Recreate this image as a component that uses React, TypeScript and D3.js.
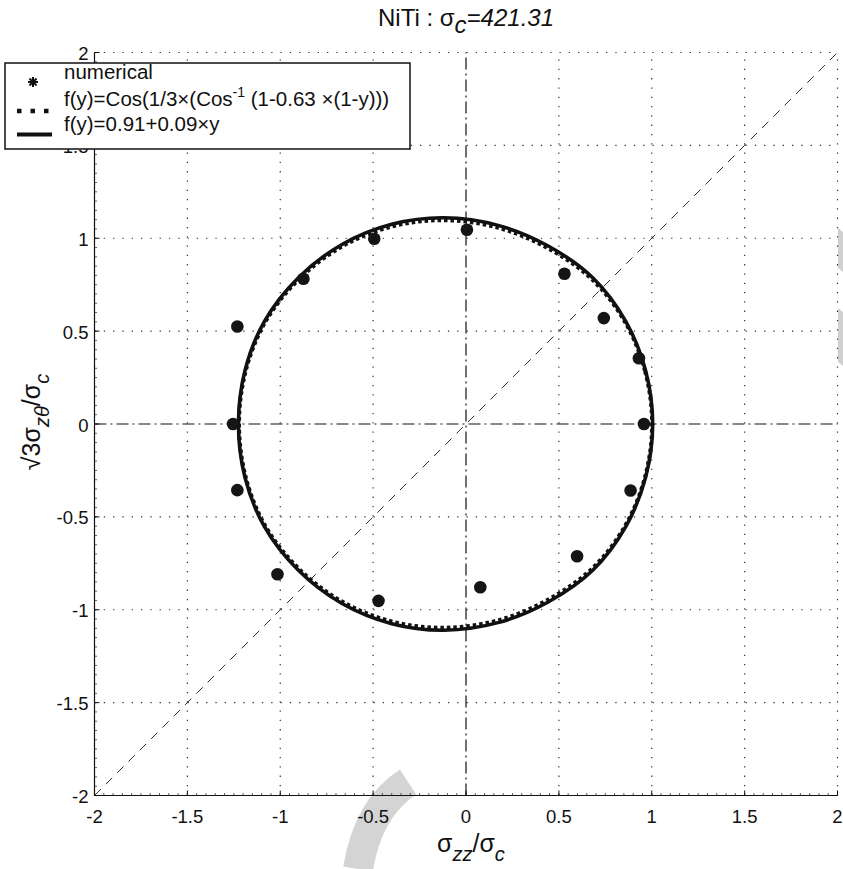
import React from 'react'
import * as d3 from 'd3'

// numerical points (sigma_zz/sigma_c, sqrt3 sigma_ztheta/sigma_c)
const numX = [0.005, -0.494, -0.875, -1.231, -1.254, -1.231, -1.015, -0.471, 0.077, 0.598, 0.886, 0.958, 0.931, 0.742, 0.53]
const numY = [1.046, 0.997, 0.782, 0.525, 0.0, -0.356, -0.809, -0.952, -0.879, -0.712, -0.358, 0.0, 0.354, 0.57, 0.809]

// f(y)=0.91+0.09y  (solid)
const linearCurve: [number, number][] = [
  [1.005, 0], [0.967, 0.287], [0.86, 0.553], [0.685, 0.785], [0.445, 0.957], [0.178, 1.068],
  [-0.12, 1.11], [-0.4, 1.075], [-0.67, 0.965], [-0.905, 0.785], [-1.085, 0.553], [-1.19, 0.287],
  [-1.225, 0],
  [-1.19, -0.287], [-1.085, -0.553], [-0.905, -0.785], [-0.67, -0.965], [-0.4, -1.075], [-0.12, -1.11],
  [0.178, -1.068], [0.445, -0.957], [0.685, -0.785], [0.86, -0.553], [0.967, -0.287]
]

// f(y)=Cos(1/3 (Cos^-1(1-0.63(1-y))))  (dotted)
const cosCurve: [number, number][] = [
  [1.002, 0], [0.964, 0.285], [0.856, 0.549], [0.68, 0.777], [0.441, 0.946], [0.176, 1.056],
  [-0.12, 1.097], [-0.4, 1.063], [-0.667, 0.956], [-0.9, 0.779], [-1.08, 0.55], [-1.186, 0.286],
  [-1.222, 0],
  [-1.186, -0.286], [-1.08, -0.55], [-0.9, -0.779], [-0.667, -0.956], [-0.4, -1.063], [-0.12, -1.097],
  [0.176, -1.056], [0.441, -0.946], [0.68, -0.777], [0.856, -0.549], [0.964, -0.285]
]

const ticks = [-2, -1.5, -1, -0.5, 0, 0.5, 1, 1.5, 2]
const tickLabels = ['-2', '-1.5', '-1', '-0.5', '0', '0.5', '1', '1.5', '2']
const legendLabels = ['numerical', 'f(y)=Cos(1/3×(Cos', 'f(y)=0.91+0.09×y']

const font = '"Liberation Sans", Arial, Helvetica, sans-serif'

const App = () => {
  const width = 843
  const height = 869
  const x = d3.scaleLinear().domain([-2, 2]).range([94.5, 837.5])
  const y = d3.scaleLinear().domain([-2, 2]).range([795.5, 52.5])

  const line = d3.line<[number, number]>()
    .x(d => x(d[0]))
    .y(d => y(d[1]))
    .curve(d3.curveCatmullRomClosed)

  const minor = d3.range(-2, 2.001, 0.05)

  return (
    <svg width={width} height={height} style={{ display: 'block', position: 'absolute', left: 0, top: 0 }}>
      <rect width={width} height={height} fill='#fff' />

      {/* faint watermark pieces */}
      <path d='M 408 782 Q 368 808 358 869' fill='none' stroke='#d4d4d4' strokeWidth={30} />
      <path d='M 838 228 L 843 232 L 843 272 L 838 268 Z' fill='#d0d0d0' />
      <path d='M 838 308 L 843 312 L 843 366 L 838 362 Z' fill='#d0d0d0' />

      {/* grid */}
      {ticks.filter(t => t !== 0 && t !== -2).map(t => (
        <line key={'gx' + t} x1={x(t)} x2={x(t)} y1={y(-2)} y2={y(2)}
          stroke='#333' strokeWidth={1.2} strokeDasharray='1.3 8' />
      ))}
      {ticks.filter(t => t !== 0 && t !== -2).map(t => (
        <line key={'gy' + t} x1={x(-2)} x2={x(2)} y1={y(t)} y2={y(t)}
          stroke='#333' strokeWidth={1.2} strokeDasharray='1.3 8' />
      ))}

      {/* dash-dot axes through origin */}
      <line x1={x(0)} x2={x(0)} y1={y(-2)} y2={y(2)} stroke='#111' strokeWidth={1.2} strokeDasharray='12 4 2 4' />
      <line x1={x(-2)} x2={x(2)} y1={y(0)} y2={y(0)} stroke='#111' strokeWidth={1.2} strokeDasharray='12 4 2 4' />

      {/* diagonal */}
      <line x1={x(-2)} y1={y(-2)} x2={x(2)} y2={y(2)} stroke='#333' strokeWidth={1} strokeDasharray='9 7' />

      {/* curves */}
      <path d={line(cosCurve) || ''} fill='none' stroke='#111' strokeWidth={4} strokeDasharray='3.5 3' />
      <path d={line(linearCurve) || ''} fill='none' stroke='#111' strokeWidth={3.6} />

      {/* numerical */}
      {numX.map((v, i) => (
        <circle key={'n' + i} cx={x(v)} cy={y(numY[i])} r={6.3} fill='#151515' />
      ))}

      {/* axes */}
      <line x1={x(-2)} x2={x(-2)} y1={y(-2)} y2={y(2)} stroke='#111' strokeWidth={1.2} />
      <line x1={x(-2)} x2={x(2)} y1={y(-2)} y2={y(-2)} stroke='#111' strokeWidth={1.2} />
      {minor.map((t, i) => (
        <g key={'m' + i}>
          <line x1={x(-2)} x2={x(-2) + 2.5} y1={y(t)} y2={y(t)} stroke='#333' strokeWidth={0.8} />
          <line x1={x(t)} x2={x(t)} y1={y(-2)} y2={y(-2) - 2.5} stroke='#333' strokeWidth={0.8} />
        </g>
      ))}
      {ticks.map(t => (
        <g key={'t' + t}>
          <line x1={x(-2)} x2={x(-2) + 5} y1={y(t)} y2={y(t)} stroke='#111' strokeWidth={1} />
          <line x1={x(t)} x2={x(t)} y1={y(-2)} y2={y(-2) - 5} stroke='#111' strokeWidth={1} />
        </g>
      ))}

      {/* tick labels */}
      <g fontFamily={font} fontSize={18.5} fill='#111'>
        {ticks.map((t, i) => (
          <text key={'yl' + t} x={x(-2) - 6} y={y(t) + 7.5} textAnchor='end'>{tickLabels[i]}</text>
        ))}
        {ticks.map((t, i) => (
          <text key={'xl' + t} x={x(t)} y={y(-2) + 27} textAnchor='middle'>{tickLabels[i]}</text>
        ))}
      </g>

      {/* title */}
      <text x={378} y={26} fontFamily={font} fontSize={24} fill='#111'>
        NiTi : σ<tspan fontStyle='italic' dy={7}>c</tspan><tspan fontStyle='italic' dy={-7}>=421.31</tspan>
      </text>

      {/* x label */}
      <text x={437} y={852} fontFamily={font} fontSize={25} fill='#111'>
        σ<tspan fontSize={20} fontStyle='italic' dy={9}>zz</tspan><tspan dy={-9}>/σ</tspan><tspan fontSize={20} fontStyle='italic' dy={9}>c</tspan>
      </text>

      {/* y label */}
      <text transform={`translate(40, ${y(0) - 2}) rotate(-90)`} textAnchor='middle' fontFamily={font} fontSize={25} fill='#111'>
        √3σ<tspan fontSize={20} fontStyle='italic' dy={9}>zθ</tspan><tspan dy={-9}>/σ</tspan><tspan fontSize={20} fontStyle='italic' dy={9}>c</tspan>
      </text>

      {/* legend */}
      <g>
        <rect x={5} y={63} width={405} height={86} fill='#fff' stroke='#111' strokeWidth={1.5} />
        <g transform='translate(33, 82)' stroke='#111' strokeWidth={2}>
          {[0, 45, 90, 135].map(a => (
            <line key={a} x1={-5} x2={5} y1={0} y2={0} transform={`rotate(${a})`} />
          ))}
        </g>
        <line x1={17} x2={52} y1={111} y2={111} stroke='#111' strokeWidth={4.5} strokeDasharray='4.5 9' />
        <line x1={17} x2={52} y1={134.5} y2={134.5} stroke='#111' strokeWidth={4} />
        <g fontFamily={font} fontSize={20.5} fill='#111'>
          <text x={64} y={79}>{legendLabels[0]}</text>
          <text x={64} y={106}>
            {legendLabels[1]}<tspan fontSize={14} dy={-9}>-1</tspan><tspan dy={9}> (1-0.63 ×(1-y)))</tspan>
          </text>
          <text x={64} y={131}>{legendLabels[2]}</text>
        </g>
      </g>
    </svg>
  )
}

export default App
